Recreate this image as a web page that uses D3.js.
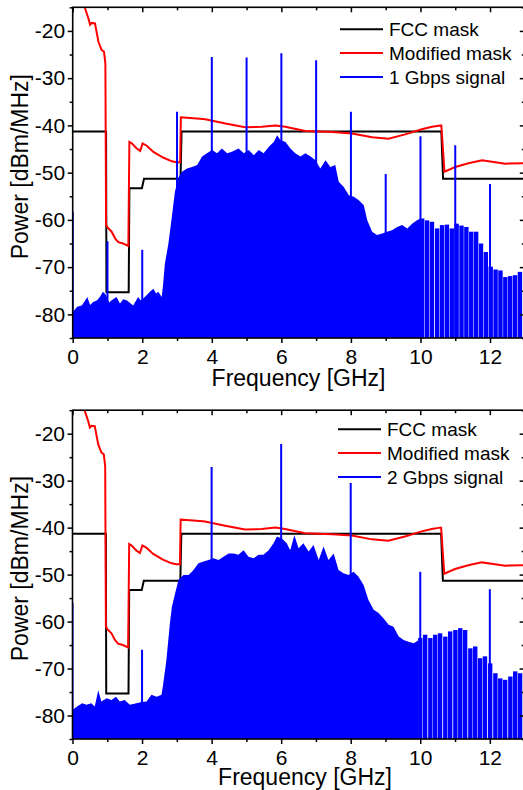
<!DOCTYPE html>
<html>
<head>
<meta charset="utf-8">
<script src="https://cdn.jsdelivr.net/npm/d3@7"></script>
<style>
  body { margin: 0; background: #fff; }
  svg { display: block; font-family: "Liberation Sans", Arial, sans-serif; }
</style>
</head>
<body>
<div id="chart"></div>
<script>
// FCC indoor mask (GHz, dBm/MHz)
var fccF = [0, 0.96, 0.97, 1.61, 1.63, 1.99, 2.05, 3.1, 3.13, 10.6, 10.65, 13];
var fccV = [-41.3, -41.3, -75.3, -75.3, -53.3, -53.3, -51.3, -51.3, -41.3, -41.3, -51.3, -51.3];

// modified mask
var modF = [0.25, 0.355, 0.45, 0.50, 0.55, 0.64, 0.74, 0.83, 0.90, 0.94, 0.96, 0.99, 1.12, 1.22, 1.31, 1.45, 1.60,
            1.63, 1.70, 1.84, 1.94, 2.01, 2.13, 2.32, 2.60, 2.85, 2.99, 3.09, 3.11, 3.28, 3.66, 3.81, 4.39, 4.96,
            5.44, 5.83, 6.11, 6.69, 7.46, 8.03, 8.61, 9.08, 9.56, 10.04, 10.33, 10.57, 10.60, 10.69, 11.0, 11.38,
            11.77, 12.15, 12.44, 13.0];
var modV = [-13, -15.2, -17.3, -18.7, -18.3, -18.4, -22.3, -24.0, -24.4, -26.9, -61.0, -61.5, -62.5, -63.9, -64.7, -65.0, -65.5,
            -43.5, -43.8, -44.9, -45.4, -43.8, -44.3, -45.6, -46.8, -47.6, -47.8, -47.8, -38.3, -38.4, -38.6, -38.7, -39.6, -40.4,
            -40.3, -40.0, -40.3, -41.2, -41.4, -41.7, -42.5, -42.8, -41.9, -40.8, -40.3, -40.0, -40.0, -49.8, -48.8, -48.0,
            -47.4, -47.8, -48.1, -48.0];

// 1 Gbps signal: spectrum envelope, comb teeth above 10 GHz, discrete tones
var sig1F = [0.00, 0.13, 0.26, 0.33, 0.42, 0.50, 0.59, 0.70, 0.78, 0.87, 0.96, 1.05, 1.12, 1.26, 1.36, 1.45, 1.55, 1.65,
             1.74, 1.88, 1.95, 2.05, 2.13, 2.22, 2.32, 2.40, 2.46, 2.56, 2.60, 2.65, 2.75, 2.85, 2.94, 3.05, 3.14, 3.29,
             3.43, 3.58, 3.72, 3.86, 4.01, 4.15, 4.29, 4.44, 4.58, 4.77, 4.92, 5.06, 5.21, 5.35, 5.49, 5.64, 5.78, 5.88,
             5.97, 6.12, 6.26, 6.40, 6.55, 6.69, 6.84, 6.98, 7.12, 7.27, 7.41, 7.55, 7.65, 7.79, 7.94, 8.08, 8.22, 8.37,
             8.47, 8.61, 8.75, 8.90, 9.04, 9.18, 9.33, 9.47, 9.62, 9.76, 9.90, 10.00];
var sig1V = [-79.5, -78.4, -78.1, -77.4, -76.3, -78.0, -77.4, -77.0, -76.3, -75.2, -75.9, -77.5, -77.0, -76.3, -77.7, -76.8, -77.0, -77.6,
             -78.1, -76.3, -77.0, -76.5, -75.9, -75.2, -74.6, -75.6, -75.2, -76.3, -73.6, -69.3, -65.1, -59.4, -54.0, -50.9, -49.8, -49.1,
             -48.8, -48.4, -46.6, -45.9, -45.2, -45.9, -44.9, -45.9, -45.6, -44.9, -45.9, -45.2, -46.3, -45.2, -45.9, -44.5, -43.5, -42.1,
             -43.1, -43.5, -44.9, -45.9, -46.6, -45.9, -46.6, -47.4, -49.1, -47.4, -48.8, -48.4, -51.9, -53.0, -54.8, -55.1, -55.8, -56.9,
             -60.1, -62.5, -63.2, -62.9, -62.5, -62.2, -61.5, -61.1, -61.8, -60.8, -60.1, -59.7];
var comb1F = [10.05, 10.19, 10.33, 10.48, 10.62, 10.76, 10.90, 11.04, 11.18, 11.32, 11.46, 11.60, 11.74, 11.88, 12.02,
              12.16, 12.30, 12.44, 12.58, 12.72, 12.86];
var comb1V = [-59.7, -60.1, -60.4, -61.8, -61.1, -61.0, -61.8, -60.8, -61.2, -61.5, -62.5, -62.5, -65.0, -66.8, -69.9,
              -70.5, -70.7, -72.1, -71.9, -71.7, -71.0];
var tone1F = [0, 1, 2, 3, 4, 5, 6, 7, 8, 9, 10, 11, 12];
var tone1V = [-58.3, -64.5, -66.3, -37.1, -25.5, -25.6, -24.7, -26.2, -37.1, -50.3, -42.3, -44.2, -52.4];

// 2 Gbps signal
var sig2F = [0.00, 0.13, 0.28, 0.40, 0.54, 0.64, 0.74, 0.83, 0.98, 1.12, 1.25, 1.36, 1.50, 1.65, 1.84, 1.95, 2.13, 2.27,
             2.42, 2.56, 2.61, 2.70, 2.80, 2.86, 2.95, 3.05, 3.19, 3.34, 3.48, 3.62, 3.77, 3.91, 4.05, 4.20, 4.34, 4.49,
             4.63, 4.77, 4.92, 5.06, 5.21, 5.35, 5.49, 5.64, 5.78, 5.88, 6.02, 6.16, 6.26, 6.38, 6.50, 6.64, 6.79, 6.93,
             7.08, 7.22, 7.36, 7.51, 7.65, 7.79, 7.94, 8.08, 8.22, 8.37, 8.51, 8.66, 8.80, 8.94, 9.09, 9.23, 9.38, 9.52,
             9.66, 9.81, 9.95];
var sig2V = [-78.8, -78.1, -77.4, -77.7, -77.4, -78.1, -74.6, -77.0, -76.3, -76.7, -76.0, -77.0, -76.7, -77.7, -77.4, -77.2, -77.0, -75.6,
             -76.0, -75.6, -73.2, -68.2, -60.4, -56.8, -54.0, -51.1, -50.1, -50.1, -49.0, -47.6, -47.2, -46.9, -46.5, -46.9, -46.2, -45.5,
             -45.5, -45.8, -44.8, -46.2, -46.5, -45.8, -45.8, -44.8, -43.3, -41.9, -42.3, -43.3, -44.8, -41.6, -44.4, -43.3, -45.1, -43.7,
             -46.9, -44.0, -46.9, -45.5, -49.0, -49.7, -50.1, -49.4, -50.4, -52.2, -55.4, -57.5, -58.2, -59.3, -60.7, -61.1, -63.2, -63.9,
             -64.3, -64.6, -64.0];
var comb2F = [10.00, 10.14, 10.29, 10.43, 10.57, 10.72, 10.86, 11.01, 11.15, 11.29, 11.44, 11.58, 11.72, 11.86, 12.01,
              12.16, 12.30, 12.44, 12.59, 12.73, 12.87];
var comb2V = [-63.5, -62.8, -63.5, -62.8, -62.5, -63.2, -62.1, -61.8, -61.4, -61.8, -65.7, -65.3, -67.8, -67.4, -68.9,
              -71.0, -72.1, -72.4, -71.7, -70.6, -71.0];
var tone2F = [0, 2, 4, 6, 8, 10, 12];
var tone2V = [-56.0, -66.0, -27.1, -22.2, -30.5, -49.4, -53.1];

// ticks and labels
var xMajor = [0, 2, 4, 6, 8, 10, 12];
var xMinor = [1, 3, 5, 7, 9, 11, 13];
var yMajor = [-80, -70, -60, -50, -40, -30, -20];
var yMinor = [-85, -75, -65, -55, -45, -35, -25, -15];
var seriesNames = ["FCC mask", "Modified mask"];
var seriesColors = ["#000000", "#ff0000", "#0000ff"];

var W = 523, H = 790;
var font = 21;

var svg = d3.select("#chart").append("svg")
    .attr("width", W)
    .attr("height", H);

function zip(a, b) {
    return a.map(function(d, i) { return [d, b[i]]; });
}

function drawPanel(p) {
    var x = d3.scaleLinear().domain([0, 13]).range([p.left, p.right]);
    var y = d3.scaleLinear().domain([-85, -15]).range([p.bottom, p.top]);

    var clipId = "clip" + p.id;
    svg.append("clipPath").attr("id", clipId)
        .append("rect")
        .attr("x", p.left).attr("y", p.top)
        .attr("width", p.right - p.left).attr("height", p.bottom - p.top);

    var g = svg.append("g");
    var plot = g.append("g").attr("clip-path", "url(#" + clipId + ")");

    var line = d3.line()
        .x(function(d) { return x(d[0]); })
        .y(function(d) { return y(d[1]); });

    // masks
    plot.append("path")
        .datum(zip(fccF, fccV))
        .attr("d", line)
        .attr("fill", "none")
        .attr("stroke", seriesColors[0])
        .attr("stroke-width", 2);

    plot.append("path")
        .datum(zip(modF, modV))
        .attr("d", line)
        .attr("fill", "none")
        .attr("stroke", seriesColors[1])
        .attr("stroke-width", 2);

    // signal spectrum, filled down to the floor
    var area = d3.area()
        .x(function(d) { return x(d[0]); })
        .y0(y(-85))
        .y1(function(d) { return y(d[1]); });

    plot.append("path")
        .datum(zip(p.sigF, p.sigV))
        .attr("d", area)
        .attr("fill", seriesColors[2]);

    // comb teeth at the high end
    plot.selectAll(".tooth")
        .data(zip(p.combF, p.combV))
        .enter().append("rect")
        .attr("class", "tooth")
        .attr("x", function(d) { return x(d[0]) - 2.2; })
        .attr("width", 4.4)
        .attr("y", function(d) { return y(d[1]); })
        .attr("height", function(d) { return y(-85) - y(d[1]); })
        .attr("fill", seriesColors[2]);

    // discrete tones
    plot.selectAll(".tone")
        .data(zip(p.toneF, p.toneV))
        .enter().append("line")
        .attr("class", "tone")
        .attr("x1", function(d) { return x(d[0]); })
        .attr("x2", function(d) { return x(d[0]); })
        .attr("y1", y(-85))
        .attr("y2", function(d) { return y(d[1]); })
        .attr("stroke", seriesColors[2])
        .attr("stroke-width", 2);

    // axes
    var fmt = function(d) { return String(d); };
    function addAxis(axis, tx, ty) {
        var a = g.append("g")
            .attr("transform", "translate(" + tx + "," + ty + ")")
            .call(axis);
        a.select(".domain").remove();
        a.selectAll("line").attr("stroke", "#000").attr("stroke-width", 1.5);
        a.selectAll("text")
            .attr("fill", "#000")
            .style("font-size", font + "px")
            .style("font-family", "'Liberation Sans', Arial, sans-serif");
        return a;
    }
    addAxis(d3.axisBottom(x).tickValues(xMajor).tickFormat(fmt).tickSizeInner(5).tickSizeOuter(0).tickPadding(6), 0, p.bottom);
    addAxis(d3.axisBottom(x).tickValues(xMinor).tickFormat("").tickSizeInner(3).tickSizeOuter(0), 0, p.bottom);
    addAxis(d3.axisTop(x).tickValues(xMajor).tickFormat("").tickSizeInner(-5).tickSizeOuter(0), 0, p.top);
    addAxis(d3.axisTop(x).tickValues(xMinor).tickFormat("").tickSizeInner(-3).tickSizeOuter(0), 0, p.top);
    addAxis(d3.axisLeft(y).tickValues(yMajor).tickFormat(fmt).tickSizeInner(5).tickSizeOuter(0).tickPadding(2.5), p.left, 0);
    addAxis(d3.axisLeft(y).tickValues(yMinor).tickFormat("").tickSizeInner(3).tickSizeOuter(0), p.left, 0);
    addAxis(d3.axisRight(y).tickValues(yMajor).tickFormat("").tickSizeInner(-5).tickSizeOuter(0), p.right, 0);
    addAxis(d3.axisRight(y).tickValues(yMinor).tickFormat("").tickSizeInner(-3).tickSizeOuter(0), p.right, 0);

    // frame
    g.append("rect")
        .attr("x", p.left).attr("y", p.top)
        .attr("width", p.right - p.left).attr("height", p.bottom - p.top)
        .attr("fill", "none")
        .attr("stroke", "#000")
        .attr("stroke-width", 1.6);

    // axis titles
    g.append("text")
        .attr("x", p.xTitleX)
        .attr("y", p.bottom + p.xTitleDy)
        .attr("text-anchor", "middle")
        .style("font-size", "23px")
        .text("Frequency [GHz]");

    g.append("text")
        .attr("transform", "translate(28," + ((p.top + p.bottom) / 2 - 6) + ") rotate(-90)")
        .attr("text-anchor", "middle")
        .style("font-size", "23px")
        .text("Power [dBm/MHz]");

    // legend
    var names = seriesNames.concat([p.sigName]);
    var leg = g.selectAll(".legend")
        .data(names)
        .enter().append("g")
        .attr("class", "legend")
        .attr("transform", function(d, i) {
            return "translate(" + p.legX + "," + (p.legY + i * 23.8) + ")";
        });
    leg.append("line")
        .attr("x1", 0).attr("x2", 43)
        .attr("stroke", function(d, i) { return seriesColors[i]; })
        .attr("stroke-width", 2);
    leg.append("text")
        .attr("x", 49)
        .attr("y", 6.6)
        .style("font-size", "19px")
        .attr("fill", "#000")
        .text(function(d) { return d; });
}

drawPanel({
    id: 1, left: 72.7, right: 524.8, top: 7.3, bottom: 338,
    sigF: sig1F, sigV: sig1V, combF: comb1F, combV: comb1V, toneF: tone1F, toneV: tone1V,
    sigName: "1 Gbps signal", legX: 340, legY: 29.3, xTitleX: 298.5, xTitleDy: 48
});
drawPanel({
    id: 2, left: 72.5, right: 524.6, top: 410.2, bottom: 739,
    sigF: sig2F, sigV: sig2V, combF: comb2F, combV: comb2V, toneF: tone2F, toneV: tone2V,
    sigName: "2 Gbps signal", legX: 338, legY: 429.3, xTitleX: 305, xTitleDy: 45.5
});
</script>
</body>
</html>
